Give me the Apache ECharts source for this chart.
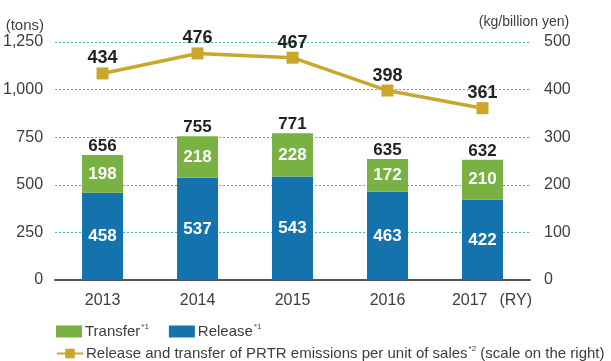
<!DOCTYPE html>
<html>
<head>
<meta charset="utf-8">
<script src="https://cdn.jsdelivr.net/npm/echarts@6/dist/echarts.min.js"></script>
<style>
  html, body { margin: 0; padding: 0; background: #fff; }
  #chart { width: 611px; height: 361px; }
</style>
</head>
<body>
<div id="chart"></div>
<script>
// Reporting years (RY)
const years = ['2013', '2014', '2015', '2016', '2017'];
// PRTR release and transfer, tons (left scale)
const release = [458, 537, 543, 463, 422];
const transfer = [198, 218, 228, 172, 210];
// Release and transfer per unit of sales, kg/billion yen (right scale)
const intensity = [434, 476, 467, 398, 361];

const totals = release.map((v, i) => v + transfer[i]);

const LINE_NAME = 'Release and transfer of PRTR emissions per unit of sales';
const FONT = '"Liberation Sans", Arial, sans-serif';
const TEXT = '#3d3d3d';

const chart = echarts.init(document.getElementById('chart'), null, { renderer: 'canvas' });

const innerLabel = {
  show: true,
  position: 'inside',
  color: '#fff',
  fontFamily: FONT,
  fontWeight: 'bold',
  fontSize: 17
};

const legendText = {
  fontFamily: FONT, fontSize: 15, color: TEXT, padding: [0, 0, 0, -2],
  rich: { s: { fontSize: 8, color: TEXT, padding: [0, 0, 9, 1] } }
};

chart.setOption({
  animation: false,
  backgroundColor: '#fff',
  textStyle: { fontFamily: FONT },
  grid: { left: 55, right: 81, top: 42, bottom: 81 },
  legend: [
    {
      data: ['Transfer', 'Release'],
      left: 51,
      top: 318,
      itemWidth: 26,
      itemHeight: 12,
      itemGap: 20,
      icon: 'rect',
      formatter: name => name + '{s|*1}',
      textStyle: legendText
    },
    {
      data: [LINE_NAME],
      left: 51,
      top: 340,
      itemWidth: 26,
      itemHeight: 12,
      formatter: name => name + '{s|*2} (scale on the right)',
      textStyle: legendText
    }
  ],
  xAxis: {
    type: 'category',
    data: years,
    axisLine: { lineStyle: { color: '#555', width: 2 } },
    axisTick: { show: false },
    axisLabel: {
      color: TEXT,
      fontSize: 16,
      margin: 13,
      interval: 0,
      formatter: (v, i) => i === years.length - 1 ? '{y|' + v + '}{r|(RY)}' : v,
      rich: {
        y: { fontSize: 16, color: TEXT, padding: [0, 0, 0, 19] },
        r: { fontSize: 16, color: TEXT, padding: [0, 0, 0, 12] }
      }
    }
  },
  yAxis: [
    {
      type: 'value',
      min: 0,
      max: 1250,
      interval: 250,
      name: '(tons)',
      nameLocation: 'end',
      nameGap: 16,
      nameTextStyle: { color: TEXT, fontSize: 15, align: 'right', verticalAlign: 'middle', padding: [0, 11, 0, 0] },
      axisLine: { show: false },
      axisTick: { show: false },
      axisLabel: {
        color: TEXT,
        fontSize: 16,
        margin: 12,
        formatter: v => v.toLocaleString('en-US')
      },
      splitLine: { lineStyle: { color: '#3cb8b8', type: [2, 2], width: 1 } }
    },
    {
      type: 'value',
      min: 0,
      max: 500,
      interval: 100,
      name: '(kg/billion yen)',
      nameLocation: 'end',
      nameGap: 20,
      nameTextStyle: { color: TEXT, fontSize: 14, align: 'center', verticalAlign: 'middle', padding: [0, 12, 0, 0] },
      axisLine: { show: false },
      axisTick: { show: false },
      axisLabel: { color: TEXT, fontSize: 16, margin: 14 },
      splitLine: { show: false }
    }
  ],
  series: [
    {
      name: 'Release',
      type: 'bar',
      stack: 'prtr',
      stackStrategy: 'all',
      data: release,
      barWidth: 41,
      itemStyle: { color: '#1473ad' },
      label: innerLabel
    },
    {
      name: 'Transfer',
      type: 'bar',
      stack: 'prtr',
      stackStrategy: 'all',
      data: transfer,
      barWidth: 41,
      itemStyle: { color: '#79b143' },
      label: innerLabel
    },
    {
      // zero-height cap on each stack carrying the total label
      name: 'total',
      type: 'bar',
      stack: 'prtr',
      stackStrategy: 'all',
      data: totals.map(() => 0),
      barWidth: 41,
      itemStyle: { color: 'rgba(0,0,0,0)' },
      label: {
        show: true,
        position: 'top',
        distance: 0,
        color: '#222',
        fontFamily: FONT,
        fontWeight: 'bold',
        fontSize: 17,
        formatter: p => String(totals[p.dataIndex])
      },
      z: 5
    },
    {
      name: LINE_NAME,
      type: 'line',
      yAxisIndex: 1,
      data: intensity,
      symbol: 'rect',
      symbolSize: 12,
      lineStyle: { color: '#c9a72b', width: 3.5 },
      itemStyle: { color: '#c9a72b' },
      label: {
        show: true,
        position: 'top',
        distance: 0,
        color: '#222',
        fontFamily: FONT,
        fontWeight: 'bold',
        fontSize: 18
      },
      z: 6
    }
  ]
});
</script>
</body>
</html>
